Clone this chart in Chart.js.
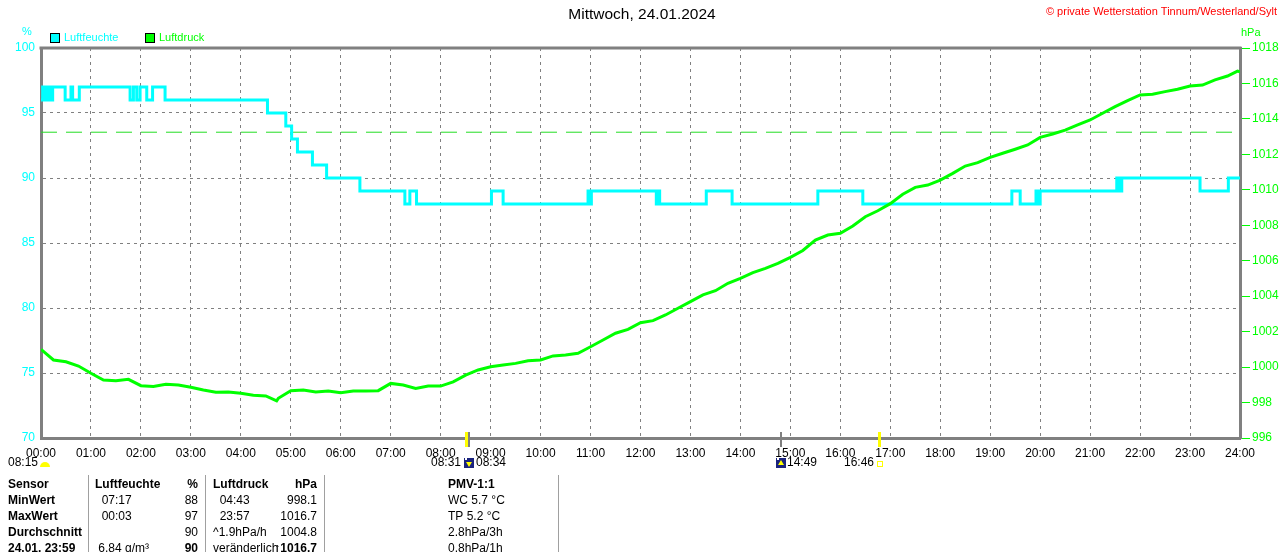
<!DOCTYPE html>
<html>
<head>
<meta charset="utf-8">
<script src="https://cdn.jsdelivr.net/npm/chart.js@4.4.0/dist/chart.umd.min.js"></script>
<style>
  body { margin: 0; background: #fff; }
  canvas { display: block; }
</style>
</head>
<body>
<canvas id="myChart" width="1280" height="552"></canvas>
<script>
// Luftfeuchte in %, jeweils Zeitpunkt des Wechsels und neuer Wert
var humTimes = ['00:00','00:02','00:04','00:07','00:09','00:11','00:13','00:14','00:29','00:36','00:38','00:46',
  '01:47','01:51','01:55','01:59','02:07','02:14','02:29','04:32','04:54','05:01','05:08','05:26','05:43',
  '06:23','07:17','07:23','07:31','09:01','09:15','10:57','10:59','11:01','12:19','12:21','12:23','13:19',
  '13:50','15:33','16:27','19:26','19:36','19:55','19:57','20:00','21:32','21:35','21:38','23:12','23:46','24:00'];
var humValues = [96,97,96,97,96,97,96,97,96,97,96,97,
  96,97,96,97,96,97,96,95,94,93,92,91,90,
  89,88,89,88,89,88,89,88,89,88,89,88,89,
  88,89,88,89,88,89,88,89,90,89,90,89,90,90];

// Luftdruck in hPa
var pressTimes = ['00:00','00:05','00:15','00:30','00:45','01:00','01:15','01:30','01:45','02:00','02:15','02:30','02:45',
  '03:00','03:15','03:30','03:45','04:00','04:15','04:30','04:43','04:45','05:00','05:15','05:30','05:45',
  '06:00','06:15','06:30','06:45','07:00','07:15','07:30','07:45','08:00','08:15','08:30','08:45',
  '09:00','09:15','09:30','09:45','10:00','10:15','10:30','10:45','11:00','11:15','11:30','11:45',
  '12:00','12:15','12:30','12:45','13:00','13:15','13:30','13:45','14:00','14:15','14:30','14:45',
  '15:00','15:15','15:30','15:45','16:00','16:15','16:30','16:45','17:00','17:15','17:30','17:45',
  '18:00','18:15','18:30','18:45','19:00','19:15','19:30','19:45','20:00','20:15','20:30','20:45',
  '21:00','21:15','21:30','21:45','22:00','22:15','22:30','22:45','23:00','23:15','23:30','23:45','23:57','24:00'];
var pressValues = [1001.0,1000.8,1000.4,1000.3,1000.06,999.65,999.27,999.23,999.31,998.95,998.9,999.03,998.99,
  998.86,998.71,998.58,998.6,998.52,998.41,998.37,998.1,998.24,998.67,998.71,998.6,998.65,
  998.56,998.65,998.65,998.67,999.08,998.99,998.8,998.93,998.93,999.17,999.55,999.84,
  1000.02,1000.12,1000.21,1000.36,1000.4,1000.63,1000.68,1000.78,1001.15,1001.53,1001.91,1002.13,
  1002.5,1002.62,1002.94,1003.32,1003.69,1004.07,1004.31,1004.73,1005.01,1005.33,1005.57,1005.85,
  1006.19,1006.58,1007.17,1007.45,1007.55,1007.96,1008.48,1008.82,1009.22,1009.75,1010.14,1010.27,
  1010.55,1010.93,1011.34,1011.53,1011.83,1012.06,1012.29,1012.53,1012.96,1013.15,1013.37,1013.66,
  1013.94,1014.32,1014.69,1015.03,1015.35,1015.39,1015.54,1015.67,1015.86,1015.91,1016.2,1016.42,1016.7,1016.66];

var normPressure = 1013.25;

var hourLabels = ['00:00','01:00','02:00','03:00','04:00','05:00','06:00','07:00','08:00','09:00','10:00','11:00',
  '12:00','13:00','14:00','15:00','16:00','17:00','18:00','19:00','20:00','21:00','22:00','23:00','24:00'];

var sunTimes = ['08:31','16:46'];
var dawnTime = '08:15';
var moonTimes = ['08:34','14:49'];

var tableRows = [
  ['Sensor','Luftfeuchte','%','Luftdruck','hPa','PMV-1:1'],
  ['MinWert','  07:17','88','  04:43','998.1','WC 5.7 °C'],
  ['MaxWert','  00:03','97','  23:57','1016.7','TP 5.2 °C'],
  ['Durchschnitt','','90','^1.9hPa/h','1004.8','2.8hPa/3h'],
  ['24.01. 23:59',' 6.84 g/m³','90','veränderlich','↑1016.7','0.8hPa/1h']
];

var FONT = '"Liberation Sans", Arial, sans-serif';
var CYAN = '#00ffff';
var GREEN = '#00ff00';
var GREY = '#808080';

function toHours(s) {
  var p = s.split(':');
  return +p[0] + p[1] / 60;
}

function points(times, values) {
  return times.map(function (t, i) { return {x: toHours(t), y: values[i]}; });
}

// alles ausserhalb der Zeichenflaeche: Titel, Legende, Sonne/Mond, Tabelle
var extras = {
  id: 'extras',
  afterDraw: function (chart) {
    var ctx = chart.ctx;
    var xs = chart.scales.x;
    var area = chart.chartArea;
    ctx.save();
    ctx.textBaseline = 'middle';

    // Rahmen oben
    ctx.strokeStyle = GREY;
    ctx.lineWidth = 3;
    ctx.beginPath();
    ctx.moveTo(area.left - 1.5, area.top);
    ctx.lineTo(area.right + 1.5, area.top);
    ctx.stroke();

    ctx.font = '15.5px ' + FONT;
    ctx.fillStyle = '#000';
    ctx.textAlign = 'center';
    ctx.fillText('Mittwoch, 24.01.2024', 642, 15);

    ctx.font = '11px ' + FONT;
    ctx.fillStyle = '#ff0000';
    ctx.textAlign = 'right';
    ctx.fillText('© private Wetterstation Tinnum/Westerland/Sylt', 1277, 12);

    ctx.font = '11px ' + FONT;
    ctx.textAlign = 'center';
    ctx.fillStyle = CYAN;
    ctx.fillText('%', 27, 32);
    ctx.fillStyle = GREEN;
    ctx.textAlign = 'left';
    ctx.fillText('hPa', 1241, 33);

    // Legende
    var legend = [['Luftfeuchte', CYAN, 50], ['Luftdruck', GREEN, 145]];
    legend.forEach(function (l) {
      ctx.fillStyle = l[1];
      ctx.fillRect(l[2], 33, 10, 10);
      ctx.strokeStyle = '#000';
      ctx.lineWidth = 1;
      ctx.strokeRect(l[2] + 0.5, 33.5, 9, 9);
      ctx.fillText(l[0], l[2] + 14, 38);
    });

    // Sonnenauf/-untergang und Mond
    sunTimes.forEach(function (t) {
      var px = Math.round(xs.getPixelForValue(toHours(t)));
      ctx.fillStyle = '#ffff00';
      ctx.fillRect(px - 1, 432, 3, 15);
    });
    moonTimes.forEach(function (t) {
      var px = Math.round(xs.getPixelForValue(toHours(t)));
      ctx.fillStyle = GREY;
      ctx.fillRect(px - 1, 432, 2, 15);
    });

    ctx.font = '12px ' + FONT;
    ctx.fillStyle = '#000';
    ctx.textAlign = 'left';
    ctx.fillText(dawnTime, 8, 463);
    ctx.fillStyle = '#ffff00';
    ctx.beginPath();
    ctx.arc(45, 467, 5, Math.PI, 0);
    ctx.fill();

    ctx.fillStyle = '#000';
    ctx.textAlign = 'right';
    ctx.fillText(sunTimes[0], 461, 463);
    ctx.textAlign = 'left';
    ctx.fillText(moonTimes[0], 476, 463);
    ctx.fillText(moonTimes[1], 787, 463);
    ctx.textAlign = 'right';
    ctx.fillText(sunTimes[1], 874, 463);
    ctx.strokeStyle = '#ffff00';
    ctx.lineWidth = 1;
    ctx.strokeRect(877.5, 461.5, 5, 5);

    [464, 776].forEach(function (ix, i) {
      ctx.fillStyle = '#1a237e';
      ctx.fillRect(ix, 458, 10, 10);
      ctx.fillStyle = '#ffff00';
      ctx.beginPath();
      if (i === 0) {
        ctx.moveTo(ix + 2, 462); ctx.lineTo(ix + 8, 462); ctx.lineTo(ix + 5, 467);
      } else {
        ctx.moveTo(ix + 2, 465); ctx.lineTo(ix + 8, 465); ctx.lineTo(ix + 5, 460);
      }
      ctx.fill();
      ctx.fillStyle = '#ffffff';
      ctx.fillRect(ix + 1, 458, 2, 2);
    });

    // Tabelle
    ctx.fillStyle = '#a0a0a0';
    [88, 205, 324, 558].forEach(function (sx) {
      ctx.fillRect(sx, 475, 1, 77);
    });
    var cols = [[8, 'left'], [95, 'left'], [198, 'right'], [213, 'left'], [317, 'right'], [448, 'left']];
    tableRows.forEach(function (row, r) {
      var y = 485 + r * 16;
      row.forEach(function (txt, c) {
        var bold = r === 0 || c === 0 || (r === 4 && (c === 2 || c === 4));
        ctx.font = (bold ? 'bold ' : '') + '12px ' + FONT;
        ctx.fillStyle = '#000';
        ctx.textAlign = cols[c][1];
        ctx.fillText(txt, cols[c][0], y);
      });
    });
    ctx.restore();
  }
};

var ctx = document.getElementById('myChart').getContext('2d');
var chart = new Chart(ctx, {
  type: 'line',
  data: {
    datasets: [
      {
        label: 'Luftdruck',
        data: points(pressTimes, pressValues),
        yAxisID: 'y2',
        borderColor: GREEN,
        borderWidth: 3,
        pointRadius: 0,
        tension: 0,
        order: 1
      },
      {
        label: 'Luftfeuchte',
        data: points(humTimes, humValues),
        yAxisID: 'y',
        borderColor: CYAN,
        borderWidth: 3,
        pointRadius: 0,
        stepped: true,
        order: 2
      },
      {
        label: 'Normaldruck',
        data: [{x: 0, y: normPressure}, {x: 24, y: normPressure}],
        yAxisID: 'y2',
        borderColor: '#22dd22',
        borderWidth: 1,
        borderDash: [16, 9],
        pointRadius: 0,
        order: 3
      }
    ]
  },
  options: {
    responsive: false,
    devicePixelRatio: 1,
    animation: false,
    layout: { padding: { top: 48, left: 0, right: 0, bottom: 0 } },
    plugins: {
      legend: { display: false },
      title: { display: false },
      tooltip: { enabled: false }
    },
    scales: {
      x: {
        type: 'linear',
        min: 0,
        max: 24,
        afterFit: function (s) { s.height = 114; },
        afterBuildTicks: function (s) {
          s.ticks = hourLabels.map(function (l, i) { return {value: i}; });
        },
        ticks: {
          autoSkip: false,
          maxRotation: 0,
          padding: 8,
          color: '#000',
          font: { family: FONT, size: 12 },
          callback: function (v) { return hourLabels[v]; }
        },
        grid: { color: GREY, lineWidth: 1, drawTicks: false },
        border: { color: GREY, width: 3, dash: [3, 4] }
      },
      y: {
        position: 'left',
        min: 70,
        max: 100,
        afterFit: function (s) { s.width = 41; },
        ticks: {
          stepSize: 5,
          padding: 6,
          color: CYAN,
          font: { family: FONT, size: 12 },
          callback: function (v) { return String(v); }
        },
        grid: { color: GREY, lineWidth: 1, drawTicks: false },
        border: { color: GREY, width: 3, dash: [3, 4] }
      },
      y2: {
        position: 'right',
        min: 996,
        max: 1018,
        afterFit: function (s) { s.width = 40; },
        ticks: {
          stepSize: 2,
          padding: 2,
          color: GREEN,
          font: { family: FONT, size: 12 },
          callback: function (v) { return String(v); }
        },
        grid: { drawOnChartArea: false, drawTicks: true, tickLength: 10, tickColor: GREEN, tickWidth: 1 },
        border: { color: GREY, width: 3 }
      }
    }
  },
  plugins: [extras]
});
</script>
</body>
</html>
